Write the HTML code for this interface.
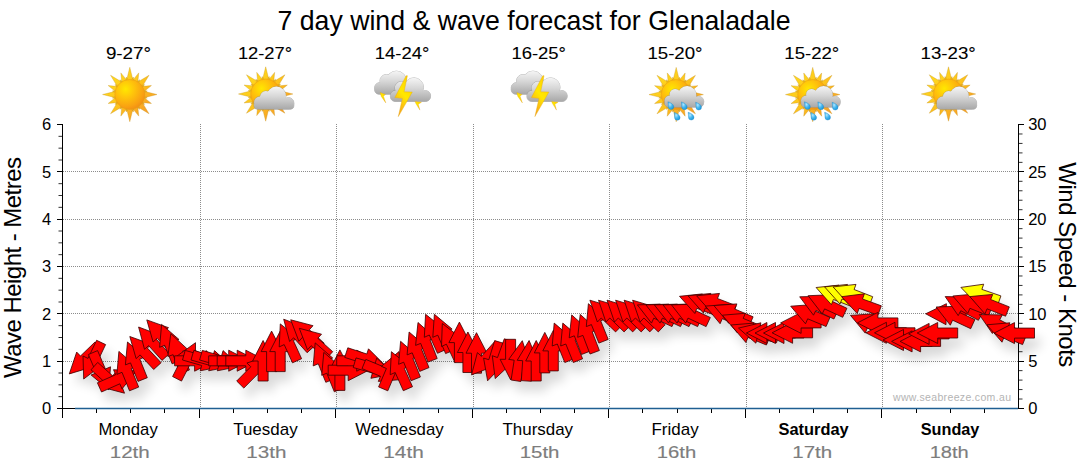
<!DOCTYPE html>
<html><head><meta charset="utf-8"><title>7 day wind &amp; wave forecast for Glenaladale</title>
<style>html,body{margin:0;padding:0;background:#fff;}body{width:1080px;height:475px;overflow:hidden;font-family:"Liberation Sans",sans-serif;}svg{display:block}text{font-family:"Liberation Sans",sans-serif;}</style></head><body>
<svg width="1080" height="475" viewBox="0 0 1080 475">
<defs>
<filter id="sh" x="-5%" y="-40%" width="110%" height="220%"><feGaussianBlur stdDeviation="5.5"/><feOffset dx="6" dy="10"/></filter>
<filter id="isf" x="-20%" y="-20%" width="140%" height="140%"><feGaussianBlur stdDeviation="0.35"/></filter>
<radialGradient id="gsun" cx="0.36" cy="0.32" r="0.75"><stop offset="0" stop-color="#ffe800"/><stop offset="0.35" stop-color="#ffc70a"/><stop offset="0.8" stop-color="#f9a012"/><stop offset="1" stop-color="#f08c14"/></radialGradient>
<linearGradient id="gray" gradientUnits="userSpaceOnUse" x1="-20" y1="-20" x2="20" y2="20"><stop offset="0" stop-color="#ffdc1e"/><stop offset="0.5" stop-color="#fdc21c"/><stop offset="1" stop-color="#f79a2a"/></linearGradient>
<linearGradient id="gcl" x1="0" y1="0" x2="0" y2="1"><stop offset="0" stop-color="#f5f5f5"/><stop offset="0.45" stop-color="#d6d6d6"/><stop offset="1" stop-color="#a8a8a8"/></linearGradient>
<linearGradient id="gbolt" x1="0.7" y1="0" x2="0.2" y2="1"><stop offset="0" stop-color="#ffd200"/><stop offset="0.45" stop-color="#ffe800"/><stop offset="0.8" stop-color="#fbb416"/><stop offset="1" stop-color="#f39a1e"/></linearGradient>
<radialGradient id="gdrop" cx="0.35" cy="0.35" r="0.8"><stop offset="0" stop-color="#aee6ff"/><stop offset="0.5" stop-color="#3fb4ee"/><stop offset="1" stop-color="#1590d6"/></radialGradient>
<g id="sunbase"><path d="M3.40 -13.50L0.00 -27.20L-3.40 -13.50ZM4.20 -12.93L3.47 -17.46L1.06 -13.55ZM7.94 -11.32L8.95 -21.62L2.39 -13.62ZM8.83 -10.34L9.89 -14.80L6.17 -12.11ZM11.95 -7.14L19.23 -19.23L7.14 -11.95ZM12.11 -6.17L14.80 -9.89L10.34 -8.83ZM13.62 -2.39L21.62 -8.95L11.32 -7.94ZM13.55 -1.06L17.46 -3.47L12.93 -4.20ZM13.50 3.40L27.20 0.00L13.50 -3.40ZM12.93 4.20L17.46 3.47L13.55 1.06ZM11.32 7.94L21.62 8.95L13.62 2.39ZM10.34 8.83L14.80 9.89L12.11 6.17ZM7.14 11.95L19.23 19.23L11.95 7.14ZM6.17 12.11L9.89 14.80L8.83 10.34ZM2.39 13.62L8.95 21.62L7.94 11.32ZM1.06 13.55L3.47 17.46L4.20 12.93ZM-3.40 13.50L0.00 27.20L3.40 13.50ZM-4.20 12.93L-3.47 17.46L-1.06 13.55ZM-7.94 11.32L-8.95 21.62L-2.39 13.62ZM-8.83 10.34L-9.89 14.80L-6.17 12.11ZM-11.95 7.14L-19.23 19.23L-7.14 11.95ZM-12.11 6.17L-14.80 9.89L-10.34 8.83ZM-13.62 2.39L-21.62 8.95L-11.32 7.94ZM-13.55 1.06L-17.46 3.47L-12.93 4.20ZM-13.50 -3.40L-27.20 0.00L-13.50 3.40ZM-12.93 -4.20L-17.46 -3.47L-13.55 -1.06ZM-11.32 -7.94L-21.62 -8.95L-13.62 -2.39ZM-10.34 -8.83L-14.80 -9.89L-12.11 -6.17ZM-7.14 -11.95L-19.23 -19.23L-11.95 -7.14ZM-6.17 -12.11L-9.89 -14.80L-8.83 -10.34ZM-2.39 -13.62L-8.95 -21.62L-7.94 -11.32ZM-1.06 -13.55L-3.47 -17.46L-4.20 -12.93Z" fill="url(#gray)" stroke="#c9941e" stroke-width="0.35"/><circle r="15" fill="url(#gsun)" stroke="#e89a14" stroke-width="0.5"/></g>
<g id="cl-pc"><path d="M-12.90 8.60a6.1 6.1 0 1 1 12.2 0a6.1 6.1 0 1 1 -12.2 0ZM-6.80 2.80a5.8 5.8 0 1 1 11.6 0a5.8 5.8 0 1 1 -11.6 0ZM-0.10 2.20a9.6 9.6 0 1 1 19.2 0a9.6 9.6 0 1 1 -19.2 0ZM16.20 9.00a5.4 5.4 0 1 1 10.8 0a5.4 5.4 0 1 1 -10.8 0ZM-8.8 7H22.9a4.1 4.1 0 0 1 4.1 4.1V11.200000000000001a4.1 4.1 0 0 1 -4.1 4.1H-8.8a4.1 4.1 0 0 1 -4.1 -4.1V11.1a4.1 4.1 0 0 1 4.1 -4.1Z" fill="#8a8a8a" stroke="#8a8a8a" stroke-width="1" opacity="0.55"/><path d="M-12.90 8.60a6.1 6.1 0 1 1 12.2 0a6.1 6.1 0 1 1 -12.2 0ZM-6.80 2.80a5.8 5.8 0 1 1 11.6 0a5.8 5.8 0 1 1 -11.6 0ZM-0.10 2.20a9.6 9.6 0 1 1 19.2 0a9.6 9.6 0 1 1 -19.2 0ZM16.20 9.00a5.4 5.4 0 1 1 10.8 0a5.4 5.4 0 1 1 -10.8 0ZM-8.8 7H22.9a4.1 4.1 0 0 1 4.1 4.1V11.200000000000001a4.1 4.1 0 0 1 -4.1 4.1H-8.8a4.1 4.1 0 0 1 -4.1 -4.1V11.1a4.1 4.1 0 0 1 4.1 -4.1Z" fill="url(#gcl)"/></g>
<g id="cl-rn"><path d="M-12.10 6.80a5.3 5.3 0 1 1 10.6 0a5.3 5.3 0 1 1 -10.6 0ZM-7.00 0.50a5.5 5.5 0 1 1 11.0 0a5.5 5.5 0 1 1 -11.0 0ZM1.30 1.20a9.2 9.2 0 1 1 18.4 0a9.2 9.2 0 1 1 -18.4 0ZM16.80 7.50a5.2 5.2 0 1 1 10.4 0a5.2 5.2 0 1 1 -10.4 0ZM-7.7 4.5H22.7a4.3 4.3 0 0 1 4.3 4.3V8.899999999999999a4.3 4.3 0 0 1 -4.3 4.3H-7.7a4.3 4.3 0 0 1 -4.3 -4.3V8.8a4.3 4.3 0 0 1 4.3 -4.3Z" fill="#8a8a8a" stroke="#8a8a8a" stroke-width="1" opacity="0.55"/><path d="M-12.10 6.80a5.3 5.3 0 1 1 10.6 0a5.3 5.3 0 1 1 -10.6 0ZM-7.00 0.50a5.5 5.5 0 1 1 11.0 0a5.5 5.5 0 1 1 -11.0 0ZM1.30 1.20a9.2 9.2 0 1 1 18.4 0a9.2 9.2 0 1 1 -18.4 0ZM16.80 7.50a5.2 5.2 0 1 1 10.4 0a5.2 5.2 0 1 1 -10.4 0ZM-7.7 4.5H22.7a4.3 4.3 0 0 1 4.3 4.3V8.899999999999999a4.3 4.3 0 0 1 -4.3 4.3H-7.7a4.3 4.3 0 0 1 -4.3 -4.3V8.8a4.3 4.3 0 0 1 4.3 -4.3Z" fill="url(#gcl)"/></g>
<g id="cl-tb"><path d="M-28.80 -6.20a5.2 5.2 0 1 1 10.4 0a5.2 5.2 0 1 1 -10.4 0ZM-23.50 -13.00a6.5 6.5 0 1 1 13.0 0a6.5 6.5 0 1 1 -13.0 0ZM-17.40 -12.50a10.4 10.4 0 1 1 20.8 0a10.4 10.4 0 1 1 -20.8 0ZM-2.50 -7.00a6.5 6.5 0 1 1 13.0 0a6.5 6.5 0 1 1 -13.0 0ZM-24.200000000000003 -9H5.4a4.6 4.6 0 0 1 4.6 4.6V-4.3a4.6 4.6 0 0 1 -4.6 4.6H-24.200000000000003a4.6 4.6 0 0 1 -4.6 -4.6V-4.4a4.6 4.6 0 0 1 4.6 -4.6Z" fill="#8a8a8a" stroke="#8a8a8a" stroke-width="1" opacity="0.55"/><path d="M-28.80 -6.20a5.2 5.2 0 1 1 10.4 0a5.2 5.2 0 1 1 -10.4 0ZM-23.50 -13.00a6.5 6.5 0 1 1 13.0 0a6.5 6.5 0 1 1 -13.0 0ZM-17.40 -12.50a10.4 10.4 0 1 1 20.8 0a10.4 10.4 0 1 1 -20.8 0ZM-2.50 -7.00a6.5 6.5 0 1 1 13.0 0a6.5 6.5 0 1 1 -13.0 0ZM-24.200000000000003 -9H5.4a4.6 4.6 0 0 1 4.6 4.6V-4.3a4.6 4.6 0 0 1 -4.6 4.6H-24.200000000000003a4.6 4.6 0 0 1 -4.6 -4.6V-4.4a4.6 4.6 0 0 1 4.6 -4.6Z" fill="url(#gcl)"/></g>
<g id="cl-tf"><path d="M-13.00 1.60a5.2 5.2 0 1 1 10.4 0a5.2 5.2 0 1 1 -10.4 0ZM-8.50 -6.00a6.5 6.5 0 1 1 13.0 0a6.5 6.5 0 1 1 -13.0 0ZM0.90 -6.60a9.6 9.6 0 1 1 19.2 0a9.6 9.6 0 1 1 -19.2 0ZM16.80 1.80a5.2 5.2 0 1 1 10.4 0a5.2 5.2 0 1 1 -10.4 0ZM-8.3 -2H22.3a4.7 4.7 0 0 1 4.7 4.7V2.8a4.7 4.7 0 0 1 -4.7 4.7H-8.3a4.7 4.7 0 0 1 -4.7 -4.7V2.7a4.7 4.7 0 0 1 4.7 -4.7Z" fill="#8a8a8a" stroke="#8a8a8a" stroke-width="1" opacity="0.55"/><path d="M-13.00 1.60a5.2 5.2 0 1 1 10.4 0a5.2 5.2 0 1 1 -10.4 0ZM-8.50 -6.00a6.5 6.5 0 1 1 13.0 0a6.5 6.5 0 1 1 -13.0 0ZM0.90 -6.60a9.6 9.6 0 1 1 19.2 0a9.6 9.6 0 1 1 -19.2 0ZM16.80 1.80a5.2 5.2 0 1 1 10.4 0a5.2 5.2 0 1 1 -10.4 0ZM-8.3 -2H22.3a4.7 4.7 0 0 1 4.7 4.7V2.8a4.7 4.7 0 0 1 -4.7 4.7H-8.3a4.7 4.7 0 0 1 -4.7 -4.7V2.7a4.7 4.7 0 0 1 4.7 -4.7Z" fill="url(#gcl)"/></g>
<path id="drop" d="M-3.3 -4.1C-1 -3.6 2.6 -1.6 2.6 0.9A2.75 2.75 0 0 1 -2.9 0.9C-2.9 -0.8 -3 -2.5 -3.3 -4.1Z" fill="url(#gdrop)" stroke="#1a86c8" stroke-width="0.35"/>
<g id="ic-sun"><use href="#sunbase" x="-0.5" y="0.5"/></g>
<g id="ic-pc"><use href="#sunbase" x="-1.2" y="0"/><use href="#cl-pc"/></g>
<g id="ic-rain"><use href="#sunbase" x="-0.4" y="0.6"/><use href="#cl-rn"/><use href="#drop" x="-5.4" y="11.9"/><use href="#drop" x="8" y="12"/><use href="#drop" x="22.3" y="12.4"/><use href="#drop" x="0.9" y="22.6"/><use href="#drop" x="14.8" y="22.4"/></g>
<g id="ic-th"><use href="#cl-tb"/><path d="M-23.2 -1.6L-18 0.4L-19.9 2.3L-17.6 8.9L-22.3 2.2Z" fill="url(#gbolt)" stroke="#e0a010" stroke-width="0.3"/><use href="#cl-tf"/><path d="M11.6 7.4L18.1 8.2L14.9 10.3L16.5 16.1L12.3 9.3Z" fill="url(#gbolt)" stroke="#e0a010" stroke-width="0.3"/><path d="M2.8 -18.3L-8.6 3.6L-1 4.4L-5.1 22.6L8.9 -1.9L0.7 -2.2L4 -18.3Z" fill="url(#gbolt)" stroke="#e6a812" stroke-width="0.4"/></g>
</defs>
<rect width="1080" height="475" fill="#fff"/>
<text x="534" y="29.5" font-size="28" text-anchor="middle" textLength="513" lengthAdjust="spacingAndGlyphs" fill="#000">7 day wind &amp; wave forecast for Glenaladale</text>
<path d="M63 361.5H1018 M63 313.5H1018 M63 266.5H1018 M63 219.5H1018 M63 171.5H1018" stroke="#8c8c8c" stroke-width="1" stroke-dasharray="1 1" fill="none" shape-rendering="crispEdges"/>
<path d="M200.5 124V408 M336.5 124V408 M473.5 124V408 M609.5 124V408 M746.5 124V408 M882.5 124V408" stroke="#8c8c8c" stroke-width="1" stroke-dasharray="1 1" fill="none" shape-rendering="crispEdges"/>
<path d="M62.5 124V418 M1018.5 124V409 M57 408.5H1019" stroke="#000" stroke-width="1" fill="none" shape-rendering="crispEdges"/>
<path d="M58.5 396.67H62 M58.5 384.83H62 M58.5 373.00H62 M58.5 349.33H62 M58.5 337.50H62 M58.5 325.67H62 M58.5 302.00H62 M58.5 290.17H62 M58.5 278.33H62 M58.5 254.67H62 M58.5 242.83H62 M58.5 231.00H62 M58.5 207.33H62 M58.5 195.50H62 M58.5 183.67H62 M58.5 160.00H62 M58.5 148.17H62 M58.5 136.33H62 M1019 399.03H1022.5 M1019 389.57H1022.5 M1019 380.10H1022.5 M1019 370.63H1022.5 M1019 351.70H1022.5 M1019 342.23H1022.5 M1019 332.77H1022.5 M1019 323.30H1022.5 M1019 304.37H1022.5 M1019 294.90H1022.5 M1019 285.43H1022.5 M1019 275.97H1022.5 M1019 257.03H1022.5 M1019 247.57H1022.5 M1019 238.10H1022.5 M1019 228.63H1022.5 M1019 209.70H1022.5 M1019 200.23H1022.5 M1019 190.77H1022.5 M1019 181.30H1022.5 M1019 162.37H1022.5 M1019 152.90H1022.5 M1019 143.43H1022.5 M1019 133.97H1022.5" stroke="#333" stroke-width="1" fill="none"/>
<path d="M57 408.5H62 M57 361.5H62 M57 313.5H62 M57 266.5H62 M57 219.5H62 M57 171.5H62 M57 124.5H62 M1019 408.5H1024 M1019 361.5H1024 M1019 313.5H1024 M1019 266.5H1024 M1019 219.5H1024 M1019 171.5H1024 M1019 124.5H1024 M62.5 409V418 M96.5 409V413 M130.5 409V413 M164.5 409V413 M199.5 409V418 M233.5 409V413 M267.5 409V413 M301.5 409V413 M335.5 409V418 M369.5 409V413 M403.5 409V413 M438.5 409V413 M472.5 409V418 M506.5 409V413 M540.5 409V413 M574.5 409V413 M608.5 409V418 M642.5 409V413 M677.5 409V413 M711.5 409V413 M745.5 409V418 M779.5 409V413 M813.5 409V413 M847.5 409V413 M881.5 409V418 M916.5 409V413 M950.5 409V413 M984.5 409V413" stroke="#000" stroke-width="1" fill="none" shape-rendering="crispEdges"/>
<path d="M101.9 349.3L87.5 363.2L91.3 367.2L69.3 373.9L76.7 352.1L80.5 356.0L94.9 342.1ZM105.6 344.6L97.0 362.7L102.0 365.0L83.7 379.0L83.0 356.0L88.0 358.4L96.6 340.3ZM97.6 350.6L105.4 369.0L110.5 366.8L108.8 389.8L91.1 375.0L96.2 372.9L88.4 354.5ZM97.7 362.4L112.6 375.8L116.3 371.7L124.5 393.2L102.2 387.3L105.9 383.2L91.0 369.8ZM97.4 382.8L115.7 374.7L113.5 369.7L136.5 370.9L122.0 388.9L119.8 383.8L101.5 392.0ZM129.5 390.8L122.0 372.3L116.9 374.4L118.9 351.4L136.3 366.5L131.2 368.6L138.7 387.1ZM138.0 381.4L130.5 362.9L125.4 364.9L127.5 342.0L144.9 357.0L139.8 359.1L147.3 377.7ZM153.7 369.5L140.1 354.9L136.1 358.6L129.8 336.5L151.4 344.3L147.4 348.1L161.1 362.7ZM162.0 360.4L148.6 345.6L144.5 349.3L138.6 327.0L160.1 335.2L156.0 338.9L169.4 353.7ZM170.8 352.9L157.2 338.3L153.1 342.0L146.8 319.9L168.5 327.7L164.5 331.4L178.1 346.1ZM172.1 363.8L164.7 345.3L159.6 347.3L161.6 324.4L179.0 339.5L173.9 341.5L181.4 360.1ZM180.0 373.5L173.1 354.7L167.9 356.5L170.8 333.7L187.7 349.4L182.5 351.2L189.4 370.0ZM172.6 376.5L181.7 358.7L176.8 356.2L195.5 342.7L195.5 365.7L190.6 363.2L181.5 381.1ZM174.6 355.8L194.6 355.8L194.6 350.2L215.1 360.8L194.6 371.2L194.6 365.8L174.6 365.8ZM185.2 350.4L204.5 355.9L206.0 350.6L222.8 366.3L200.2 370.8L201.7 365.5L182.5 360.0ZM193.8 350.4L213.0 355.9L214.5 350.6L231.3 366.3L208.7 370.8L210.3 365.5L191.0 360.0ZM202.3 350.4L221.5 355.9L223.1 350.6L239.9 366.3L217.3 370.8L218.8 365.5L199.6 360.0ZM208.7 355.8L228.7 355.8L228.7 350.2L249.2 360.8L228.7 371.2L228.7 365.8L208.7 365.8ZM217.2 355.8L237.2 355.8L237.2 350.2L257.7 360.8L237.2 371.2L237.2 365.8L217.2 365.8ZM225.8 355.8L245.8 355.8L245.8 350.2L266.3 360.8L245.8 371.2L245.8 365.8L225.8 365.8ZM236.7 381.0L250.8 366.8L246.9 363.0L268.9 355.9L261.8 377.8L257.9 373.9L243.8 388.1ZM258.1 381.0L258.1 361.0L252.6 361.0L263.1 340.5L273.6 361.0L268.1 361.0L268.1 381.0ZM266.6 371.6L266.6 351.6L261.1 351.6L271.6 331.1L282.1 351.6L276.6 351.6L276.6 371.6ZM275.2 371.6L275.2 351.6L269.7 351.6L280.2 331.1L290.7 351.6L285.2 351.6L285.2 371.6ZM292.5 362.8L284.2 344.6L279.2 346.9L280.3 323.9L298.4 338.2L293.3 340.5L301.6 358.7ZM307.1 352.7L293.7 337.8L289.6 341.5L283.7 319.2L305.2 327.4L301.1 331.1L314.5 346.0ZM317.5 350.6L302.6 337.2L298.9 341.3L290.7 319.8L313.0 325.7L309.3 329.8L324.2 343.2ZM326.0 359.1L311.1 345.7L307.5 349.8L299.3 328.3L321.5 334.2L317.8 338.3L332.7 351.7ZM325.8 382.3L318.3 363.8L313.2 365.9L315.2 342.9L332.7 358.0L327.6 360.1L335.1 378.6ZM334.3 391.8L326.8 373.2L321.7 375.3L323.8 352.4L341.2 367.4L336.1 369.5L343.6 388.0ZM334.9 390.4L334.9 370.4L329.4 370.4L339.9 349.9L350.4 370.4L344.9 370.4L344.9 390.4ZM328.2 365.2L348.2 365.2L348.2 359.7L368.7 370.2L348.2 380.7L348.2 375.2L328.2 375.2ZM336.7 355.8L356.7 355.8L356.7 350.2L377.2 360.8L356.7 371.2L356.7 365.8L336.7 365.8ZM347.8 347.8L366.8 354.0L368.5 348.8L384.8 365.1L362.0 368.8L363.7 363.5L344.7 357.4ZM356.0 357.9L375.2 363.4L376.7 358.1L393.5 373.9L370.9 378.3L372.4 373.0L353.2 367.5ZM365.8 359.4L384.3 367.1L386.4 362.0L401.3 379.6L378.3 381.4L380.4 376.3L362.0 368.6ZM378.6 386.9L386.4 368.5L381.4 366.3L399.0 351.6L400.7 374.5L395.6 372.4L387.8 390.8ZM403.3 390.7L395.2 372.5L390.2 374.7L391.4 351.7L409.4 366.2L404.3 368.4L412.5 386.7ZM411.1 380.7L403.7 362.2L398.6 364.3L400.6 341.3L418.0 356.4L412.9 358.4L420.4 377.0ZM419.7 371.4L412.2 352.8L407.1 354.9L409.1 332.0L426.6 347.0L421.5 349.1L429.0 367.6ZM427.9 362.1L420.7 343.4L415.6 345.4L418.0 322.5L435.2 337.8L430.0 339.8L437.2 358.5ZM437.5 353.3L429.3 335.0L424.3 337.3L425.6 314.3L443.5 328.7L438.5 331.0L446.6 349.2ZM445.6 353.6L437.8 335.2L432.8 337.3L434.4 314.3L452.1 329.1L447.0 331.2L454.9 349.7ZM454.9 362.3L446.4 344.2L441.5 346.5L442.3 323.5L460.5 337.6L455.5 340.0L464.0 358.1ZM454.4 362.6L454.4 342.6L448.9 342.6L459.4 322.1L469.9 342.6L464.4 342.6L464.4 362.6ZM462.9 372.5L462.9 352.5L457.4 352.5L467.9 332.0L478.4 352.5L472.9 352.5L472.9 372.5ZM471.5 373.2L471.5 353.2L466.0 353.2L476.5 332.7L487.0 353.2L481.5 353.2L481.5 373.2ZM502.3 348.1L488.9 363.0L493.0 366.6L471.5 374.9L477.4 352.6L481.5 356.3L494.8 341.4ZM504.3 343.5L498.4 362.6L503.7 364.2L487.6 380.8L483.6 358.1L488.8 359.7L494.7 340.6ZM513.7 342.2L506.9 361.0L512.0 362.9L495.2 378.6L492.3 355.7L497.5 357.6L504.3 338.8ZM515.6 339.3L515.6 359.3L521.1 359.3L510.6 379.8L500.1 359.3L505.6 359.3L505.6 339.3ZM511.1 380.0L514.2 360.2L508.7 359.4L522.3 340.7L529.5 362.6L524.1 361.8L520.9 381.5ZM521.3 380.6L522.7 360.7L517.2 360.3L529.1 340.5L538.1 361.7L532.7 361.3L531.3 381.3ZM531.2 381.0L531.2 361.0L525.7 361.0L536.2 340.5L546.7 361.0L541.2 361.0L541.2 381.0ZM539.8 372.9L539.8 352.9L534.3 352.9L544.8 332.4L555.3 352.9L549.8 352.9L549.8 372.9ZM548.3 370.9L548.3 350.9L542.8 350.9L553.3 330.4L563.8 350.9L558.3 350.9L558.3 370.9ZM564.8 362.5L557.3 344.0L552.2 346.0L554.2 323.1L571.7 338.1L566.6 340.2L574.1 358.8ZM573.3 362.5L565.8 344.0L560.7 346.0L562.8 323.1L580.2 338.1L575.1 340.2L582.6 358.8ZM581.5 354.5L574.3 335.8L569.2 337.8L571.7 314.9L588.8 330.3L583.7 332.3L590.8 350.9ZM590.0 354.0L582.9 335.4L577.7 337.3L580.2 314.4L597.3 329.8L592.2 331.8L599.4 350.5ZM598.9 343.1L591.4 324.6L586.3 326.6L588.4 303.7L605.8 318.8L600.7 320.8L608.2 339.4ZM615.6 331.9L601.2 318.0L597.4 322.0L589.9 300.2L612.0 306.9L608.2 310.8L622.6 324.7ZM624.1 331.9L609.8 318.0L605.9 322.0L598.5 300.2L620.5 306.9L616.7 310.8L631.1 324.7ZM632.7 331.9L618.3 318.0L614.5 322.0L607.0 300.2L629.1 306.9L625.2 310.8L639.6 324.7ZM641.2 331.9L626.8 318.0L623.0 322.0L615.6 300.2L637.6 306.9L633.8 310.8L648.2 324.7ZM649.8 331.9L635.4 318.0L631.5 322.0L624.1 300.2L646.1 306.9L642.3 310.8L656.7 324.7ZM658.3 331.9L643.9 318.0L640.1 322.0L632.6 300.2L654.7 306.9L650.8 310.8L665.2 324.7ZM672.0 326.6L653.8 318.1L651.5 323.1L637.4 304.9L660.4 304.1L658.1 309.1L676.2 317.5ZM680.5 326.6L662.4 318.1L660.1 323.1L645.9 304.9L668.9 304.1L666.6 309.1L684.7 317.5ZM689.0 326.6L670.9 318.1L668.6 323.1L654.4 304.9L677.5 304.1L675.1 309.1L693.3 317.5ZM697.6 326.6L679.4 318.1L677.1 323.1L663.0 304.9L686.0 304.1L683.7 309.1L701.8 317.5ZM706.1 326.6L688.0 318.1L685.7 323.1L671.5 304.9L694.5 304.1L692.2 309.1L710.3 317.5ZM715.5 315.5L696.8 308.3L694.9 313.5L679.5 296.3L702.4 293.9L700.4 299.0L719.1 306.2ZM724.1 315.0L705.4 307.9L703.4 313.0L688.0 295.8L710.9 293.4L709.0 298.5L727.6 305.7ZM732.6 315.0L713.9 307.9L711.9 313.0L696.6 295.8L719.5 293.4L717.5 298.5L736.2 305.7ZM740.7 326.5L722.3 318.7L720.1 323.7L705.4 306.1L728.3 304.4L726.2 309.5L744.6 317.3ZM749.2 326.0L730.8 318.2L728.7 323.3L713.9 305.6L736.9 303.9L734.7 309.0L753.1 316.8ZM757.9 335.3L739.4 327.7L737.3 332.8L722.4 315.2L745.3 313.3L743.2 318.4L761.7 326.0ZM766.4 345.0L747.9 337.4L745.9 342.5L730.9 325.0L753.9 323.1L751.8 328.2L770.2 335.8ZM776.6 342.7L757.2 337.9L755.9 343.2L738.5 328.1L760.9 322.8L759.6 328.2L779.0 333.0ZM786.9 338.0L766.9 338.0L766.9 343.5L746.4 333.0L766.9 322.5L766.9 328.0L786.9 328.0ZM795.5 338.0L775.5 338.0L775.5 343.5L755.0 333.0L775.5 322.5L775.5 328.0L795.5 328.0ZM804.0 338.0L784.0 338.0L784.0 343.5L763.5 333.0L784.0 322.5L784.0 328.0L804.0 328.0ZM812.6 337.8L792.6 337.8L792.6 343.3L772.1 332.8L792.6 322.3L792.6 327.8L812.6 327.8ZM821.1 327.9L801.1 327.9L801.1 333.4L780.6 322.9L801.1 312.4L801.1 317.9L821.1 317.9ZM826.1 326.5L807.7 318.8L805.5 323.8L790.7 306.2L813.7 304.5L811.5 309.6L830.0 317.3ZM833.9 319.0L815.9 310.3L813.5 315.2L799.7 296.8L822.7 296.3L820.3 301.3L838.3 310.0ZM842.7 317.3L824.6 308.9L822.2 313.9L808.1 295.7L831.1 294.8L828.8 299.8L846.9 308.3ZM852.1 306.7L833.4 299.5L831.4 304.7L816.1 287.5L839.0 285.1L837.0 290.2L855.7 297.4ZM860.6 306.1L842.0 298.9L840.0 304.0L824.6 286.9L847.5 284.4L845.5 289.5L864.2 296.7ZM869.2 306.1L850.5 298.9L848.5 304.0L833.1 286.9L856.0 284.4L854.1 289.5L872.7 296.7ZM877.9 315.2L859.1 308.4L857.2 313.5L841.6 296.7L864.4 293.8L862.5 299.0L881.3 305.8ZM885.8 335.8L867.4 328.0L865.2 333.1L850.5 315.4L873.5 313.8L871.3 318.8L889.7 326.6ZM897.9 327.9L877.9 327.9L877.9 333.4L857.4 322.9L877.9 312.4L877.9 317.9L897.9 317.9ZM906.4 337.8L886.4 337.8L886.4 343.3L865.9 332.8L886.4 322.3L886.4 327.8L906.4 327.8ZM915.0 337.8L895.0 337.8L895.0 343.3L874.5 332.8L895.0 322.3L895.0 327.8L915.0 327.8ZM923.5 345.0L903.5 345.0L903.5 350.5L883.0 340.0L903.5 329.5L903.5 335.0L923.5 335.0ZM932.1 346.4L912.1 346.4L912.1 351.9L891.6 341.4L912.1 330.9L912.1 336.4L932.1 336.4ZM940.6 346.4L920.6 346.4L920.6 351.9L900.1 341.4L920.6 330.9L920.6 336.4L940.6 336.4ZM949.1 338.9L929.1 338.9L929.1 344.4L908.6 333.9L929.1 323.4L929.1 328.9L949.1 328.9ZM957.7 338.0L937.7 338.0L937.7 343.5L917.2 333.0L937.7 322.5L937.7 328.0L957.7 328.0ZM966.1 319.5L946.1 319.2L946.0 324.7L925.7 313.8L946.4 303.7L946.3 309.2L966.3 309.5ZM970.7 328.7L952.6 320.2L950.3 325.2L936.1 307.0L959.1 306.2L956.8 311.2L974.9 319.6ZM978.4 320.3L960.8 310.7L958.2 315.6L945.2 296.6L968.2 297.1L965.6 301.9L983.2 311.5ZM988.5 315.8L969.9 308.3L967.8 313.4L952.8 296.0L975.7 293.9L973.7 299.0L992.2 306.5ZM997.6 305.4L978.7 298.8L976.9 304.0L960.9 287.4L983.7 284.2L981.9 289.4L1000.9 295.9ZM1005.6 316.2L987.0 308.8L985.0 313.9L969.8 296.6L992.7 294.4L990.7 299.5L1009.3 306.9ZM1012.7 338.0L995.0 328.6L992.4 333.5L979.3 314.6L1002.3 314.9L999.7 319.8L1017.4 329.2ZM1022.6 344.6L1004.1 337.1L1002.0 342.2L986.9 324.8L1009.9 322.8L1007.8 327.9L1026.3 335.3ZM1034.5 338.1L1014.5 338.1L1014.5 343.6L994.0 333.1L1014.5 322.6L1014.5 328.1L1034.5 328.1Z" fill="#000" filter="url(#sh)" opacity="0.15"/>
<g stroke="#3a0000" stroke-width="0.8" stroke-linejoin="miter">
<path d="M101.9 349.3L87.5 363.2L91.3 367.2L69.3 373.9L76.7 352.1L80.5 356.0L94.9 342.1Z" fill="#ff0000"/>
<path d="M105.6 344.6L97.0 362.7L102.0 365.0L83.7 379.0L83.0 356.0L88.0 358.4L96.6 340.3Z" fill="#ff0000"/>
<path d="M97.6 350.6L105.4 369.0L110.5 366.8L108.8 389.8L91.1 375.0L96.2 372.9L88.4 354.5Z" fill="#ff0000"/>
<path d="M97.7 362.4L112.6 375.8L116.3 371.7L124.5 393.2L102.2 387.3L105.9 383.2L91.0 369.8Z" fill="#ff0000"/>
<path d="M97.4 382.8L115.7 374.7L113.5 369.7L136.5 370.9L122.0 388.9L119.8 383.8L101.5 392.0Z" fill="#ff0000"/>
<path d="M129.5 390.8L122.0 372.3L116.9 374.4L118.9 351.4L136.3 366.5L131.2 368.6L138.7 387.1Z" fill="#ff0000"/>
<path d="M138.0 381.4L130.5 362.9L125.4 364.9L127.5 342.0L144.9 357.0L139.8 359.1L147.3 377.7Z" fill="#ff0000"/>
<path d="M153.7 369.5L140.1 354.9L136.1 358.6L129.8 336.5L151.4 344.3L147.4 348.1L161.1 362.7Z" fill="#ff0000"/>
<path d="M162.0 360.4L148.6 345.6L144.5 349.3L138.6 327.0L160.1 335.2L156.0 338.9L169.4 353.7Z" fill="#ff0000"/>
<path d="M170.8 352.9L157.2 338.3L153.1 342.0L146.8 319.9L168.5 327.7L164.5 331.4L178.1 346.1Z" fill="#ff0000"/>
<path d="M172.1 363.8L164.7 345.3L159.6 347.3L161.6 324.4L179.0 339.5L173.9 341.5L181.4 360.1Z" fill="#ff0000"/>
<path d="M180.0 373.5L173.1 354.7L167.9 356.5L170.8 333.7L187.7 349.4L182.5 351.2L189.4 370.0Z" fill="#ff0000"/>
<path d="M172.6 376.5L181.7 358.7L176.8 356.2L195.5 342.7L195.5 365.7L190.6 363.2L181.5 381.1Z" fill="#ff0000"/>
<path d="M174.6 355.8L194.6 355.8L194.6 350.2L215.1 360.8L194.6 371.2L194.6 365.8L174.6 365.8Z" fill="#ff0000"/>
<path d="M185.2 350.4L204.5 355.9L206.0 350.6L222.8 366.3L200.2 370.8L201.7 365.5L182.5 360.0Z" fill="#ff0000"/>
<path d="M193.8 350.4L213.0 355.9L214.5 350.6L231.3 366.3L208.7 370.8L210.3 365.5L191.0 360.0Z" fill="#ff0000"/>
<path d="M202.3 350.4L221.5 355.9L223.1 350.6L239.9 366.3L217.3 370.8L218.8 365.5L199.6 360.0Z" fill="#ff0000"/>
<path d="M208.7 355.8L228.7 355.8L228.7 350.2L249.2 360.8L228.7 371.2L228.7 365.8L208.7 365.8Z" fill="#ff0000"/>
<path d="M217.2 355.8L237.2 355.8L237.2 350.2L257.7 360.8L237.2 371.2L237.2 365.8L217.2 365.8Z" fill="#ff0000"/>
<path d="M225.8 355.8L245.8 355.8L245.8 350.2L266.3 360.8L245.8 371.2L245.8 365.8L225.8 365.8Z" fill="#ff0000"/>
<path d="M236.7 381.0L250.8 366.8L246.9 363.0L268.9 355.9L261.8 377.8L257.9 373.9L243.8 388.1Z" fill="#ff0000"/>
<path d="M258.1 381.0L258.1 361.0L252.6 361.0L263.1 340.5L273.6 361.0L268.1 361.0L268.1 381.0Z" fill="#ff0000"/>
<path d="M266.6 371.6L266.6 351.6L261.1 351.6L271.6 331.1L282.1 351.6L276.6 351.6L276.6 371.6Z" fill="#ff0000"/>
<path d="M275.2 371.6L275.2 351.6L269.7 351.6L280.2 331.1L290.7 351.6L285.2 351.6L285.2 371.6Z" fill="#ff0000"/>
<path d="M292.5 362.8L284.2 344.6L279.2 346.9L280.3 323.9L298.4 338.2L293.3 340.5L301.6 358.7Z" fill="#ff0000"/>
<path d="M307.1 352.7L293.7 337.8L289.6 341.5L283.7 319.2L305.2 327.4L301.1 331.1L314.5 346.0Z" fill="#ff0000"/>
<path d="M317.5 350.6L302.6 337.2L298.9 341.3L290.7 319.8L313.0 325.7L309.3 329.8L324.2 343.2Z" fill="#ff0000"/>
<path d="M326.0 359.1L311.1 345.7L307.5 349.8L299.3 328.3L321.5 334.2L317.8 338.3L332.7 351.7Z" fill="#ff0000"/>
<path d="M325.8 382.3L318.3 363.8L313.2 365.9L315.2 342.9L332.7 358.0L327.6 360.1L335.1 378.6Z" fill="#ff0000"/>
<path d="M334.3 391.8L326.8 373.2L321.7 375.3L323.8 352.4L341.2 367.4L336.1 369.5L343.6 388.0Z" fill="#ff0000"/>
<path d="M334.9 390.4L334.9 370.4L329.4 370.4L339.9 349.9L350.4 370.4L344.9 370.4L344.9 390.4Z" fill="#ff0000"/>
<path d="M328.2 365.2L348.2 365.2L348.2 359.7L368.7 370.2L348.2 380.7L348.2 375.2L328.2 375.2Z" fill="#ff0000"/>
<path d="M336.7 355.8L356.7 355.8L356.7 350.2L377.2 360.8L356.7 371.2L356.7 365.8L336.7 365.8Z" fill="#ff0000"/>
<path d="M347.8 347.8L366.8 354.0L368.5 348.8L384.8 365.1L362.0 368.8L363.7 363.5L344.7 357.4Z" fill="#ff0000"/>
<path d="M356.0 357.9L375.2 363.4L376.7 358.1L393.5 373.9L370.9 378.3L372.4 373.0L353.2 367.5Z" fill="#ff0000"/>
<path d="M365.8 359.4L384.3 367.1L386.4 362.0L401.3 379.6L378.3 381.4L380.4 376.3L362.0 368.6Z" fill="#ff0000"/>
<path d="M378.6 386.9L386.4 368.5L381.4 366.3L399.0 351.6L400.7 374.5L395.6 372.4L387.8 390.8Z" fill="#ff0000"/>
<path d="M403.3 390.7L395.2 372.5L390.2 374.7L391.4 351.7L409.4 366.2L404.3 368.4L412.5 386.7Z" fill="#ff0000"/>
<path d="M411.1 380.7L403.7 362.2L398.6 364.3L400.6 341.3L418.0 356.4L412.9 358.4L420.4 377.0Z" fill="#ff0000"/>
<path d="M419.7 371.4L412.2 352.8L407.1 354.9L409.1 332.0L426.6 347.0L421.5 349.1L429.0 367.6Z" fill="#ff0000"/>
<path d="M427.9 362.1L420.7 343.4L415.6 345.4L418.0 322.5L435.2 337.8L430.0 339.8L437.2 358.5Z" fill="#ff0000"/>
<path d="M437.5 353.3L429.3 335.0L424.3 337.3L425.6 314.3L443.5 328.7L438.5 331.0L446.6 349.2Z" fill="#ff0000"/>
<path d="M445.6 353.6L437.8 335.2L432.8 337.3L434.4 314.3L452.1 329.1L447.0 331.2L454.9 349.7Z" fill="#ff0000"/>
<path d="M454.9 362.3L446.4 344.2L441.5 346.5L442.3 323.5L460.5 337.6L455.5 340.0L464.0 358.1Z" fill="#ff0000"/>
<path d="M454.4 362.6L454.4 342.6L448.9 342.6L459.4 322.1L469.9 342.6L464.4 342.6L464.4 362.6Z" fill="#ff0000"/>
<path d="M462.9 372.5L462.9 352.5L457.4 352.5L467.9 332.0L478.4 352.5L472.9 352.5L472.9 372.5Z" fill="#ff0000"/>
<path d="M471.5 373.2L471.5 353.2L466.0 353.2L476.5 332.7L487.0 353.2L481.5 353.2L481.5 373.2Z" fill="#ff0000"/>
<path d="M502.3 348.1L488.9 363.0L493.0 366.6L471.5 374.9L477.4 352.6L481.5 356.3L494.8 341.4Z" fill="#ff0000"/>
<path d="M504.3 343.5L498.4 362.6L503.7 364.2L487.6 380.8L483.6 358.1L488.8 359.7L494.7 340.6Z" fill="#ff0000"/>
<path d="M513.7 342.2L506.9 361.0L512.0 362.9L495.2 378.6L492.3 355.7L497.5 357.6L504.3 338.8Z" fill="#ff0000"/>
<path d="M515.6 339.3L515.6 359.3L521.1 359.3L510.6 379.8L500.1 359.3L505.6 359.3L505.6 339.3Z" fill="#ff0000"/>
<path d="M511.1 380.0L514.2 360.2L508.7 359.4L522.3 340.7L529.5 362.6L524.1 361.8L520.9 381.5Z" fill="#ff0000"/>
<path d="M521.3 380.6L522.7 360.7L517.2 360.3L529.1 340.5L538.1 361.7L532.7 361.3L531.3 381.3Z" fill="#ff0000"/>
<path d="M531.2 381.0L531.2 361.0L525.7 361.0L536.2 340.5L546.7 361.0L541.2 361.0L541.2 381.0Z" fill="#ff0000"/>
<path d="M539.8 372.9L539.8 352.9L534.3 352.9L544.8 332.4L555.3 352.9L549.8 352.9L549.8 372.9Z" fill="#ff0000"/>
<path d="M548.3 370.9L548.3 350.9L542.8 350.9L553.3 330.4L563.8 350.9L558.3 350.9L558.3 370.9Z" fill="#ff0000"/>
<path d="M564.8 362.5L557.3 344.0L552.2 346.0L554.2 323.1L571.7 338.1L566.6 340.2L574.1 358.8Z" fill="#ff0000"/>
<path d="M573.3 362.5L565.8 344.0L560.7 346.0L562.8 323.1L580.2 338.1L575.1 340.2L582.6 358.8Z" fill="#ff0000"/>
<path d="M581.5 354.5L574.3 335.8L569.2 337.8L571.7 314.9L588.8 330.3L583.7 332.3L590.8 350.9Z" fill="#ff0000"/>
<path d="M590.0 354.0L582.9 335.4L577.7 337.3L580.2 314.4L597.3 329.8L592.2 331.8L599.4 350.5Z" fill="#ff0000"/>
<path d="M598.9 343.1L591.4 324.6L586.3 326.6L588.4 303.7L605.8 318.8L600.7 320.8L608.2 339.4Z" fill="#ff0000"/>
<path d="M615.6 331.9L601.2 318.0L597.4 322.0L589.9 300.2L612.0 306.9L608.2 310.8L622.6 324.7Z" fill="#ff0000"/>
<path d="M624.1 331.9L609.8 318.0L605.9 322.0L598.5 300.2L620.5 306.9L616.7 310.8L631.1 324.7Z" fill="#ff0000"/>
<path d="M632.7 331.9L618.3 318.0L614.5 322.0L607.0 300.2L629.1 306.9L625.2 310.8L639.6 324.7Z" fill="#ff0000"/>
<path d="M641.2 331.9L626.8 318.0L623.0 322.0L615.6 300.2L637.6 306.9L633.8 310.8L648.2 324.7Z" fill="#ff0000"/>
<path d="M649.8 331.9L635.4 318.0L631.5 322.0L624.1 300.2L646.1 306.9L642.3 310.8L656.7 324.7Z" fill="#ff0000"/>
<path d="M658.3 331.9L643.9 318.0L640.1 322.0L632.6 300.2L654.7 306.9L650.8 310.8L665.2 324.7Z" fill="#ff0000"/>
<path d="M672.0 326.6L653.8 318.1L651.5 323.1L637.4 304.9L660.4 304.1L658.1 309.1L676.2 317.5Z" fill="#ff0000"/>
<path d="M680.5 326.6L662.4 318.1L660.1 323.1L645.9 304.9L668.9 304.1L666.6 309.1L684.7 317.5Z" fill="#ff0000"/>
<path d="M689.0 326.6L670.9 318.1L668.6 323.1L654.4 304.9L677.5 304.1L675.1 309.1L693.3 317.5Z" fill="#ff0000"/>
<path d="M697.6 326.6L679.4 318.1L677.1 323.1L663.0 304.9L686.0 304.1L683.7 309.1L701.8 317.5Z" fill="#ff0000"/>
<path d="M706.1 326.6L688.0 318.1L685.7 323.1L671.5 304.9L694.5 304.1L692.2 309.1L710.3 317.5Z" fill="#ff0000"/>
<path d="M715.5 315.5L696.8 308.3L694.9 313.5L679.5 296.3L702.4 293.9L700.4 299.0L719.1 306.2Z" fill="#ff0000"/>
<path d="M724.1 315.0L705.4 307.9L703.4 313.0L688.0 295.8L710.9 293.4L709.0 298.5L727.6 305.7Z" fill="#ff0000"/>
<path d="M732.6 315.0L713.9 307.9L711.9 313.0L696.6 295.8L719.5 293.4L717.5 298.5L736.2 305.7Z" fill="#ff0000"/>
<path d="M740.7 326.5L722.3 318.7L720.1 323.7L705.4 306.1L728.3 304.4L726.2 309.5L744.6 317.3Z" fill="#ff0000"/>
<path d="M749.2 326.0L730.8 318.2L728.7 323.3L713.9 305.6L736.9 303.9L734.7 309.0L753.1 316.8Z" fill="#ff0000"/>
<path d="M757.9 335.3L739.4 327.7L737.3 332.8L722.4 315.2L745.3 313.3L743.2 318.4L761.7 326.0Z" fill="#ff0000"/>
<path d="M766.4 345.0L747.9 337.4L745.9 342.5L730.9 325.0L753.9 323.1L751.8 328.2L770.2 335.8Z" fill="#ff0000"/>
<path d="M776.6 342.7L757.2 337.9L755.9 343.2L738.5 328.1L760.9 322.8L759.6 328.2L779.0 333.0Z" fill="#ff0000"/>
<path d="M786.9 338.0L766.9 338.0L766.9 343.5L746.4 333.0L766.9 322.5L766.9 328.0L786.9 328.0Z" fill="#ff0000"/>
<path d="M795.5 338.0L775.5 338.0L775.5 343.5L755.0 333.0L775.5 322.5L775.5 328.0L795.5 328.0Z" fill="#ff0000"/>
<path d="M804.0 338.0L784.0 338.0L784.0 343.5L763.5 333.0L784.0 322.5L784.0 328.0L804.0 328.0Z" fill="#ff0000"/>
<path d="M812.6 337.8L792.6 337.8L792.6 343.3L772.1 332.8L792.6 322.3L792.6 327.8L812.6 327.8Z" fill="#ff0000"/>
<path d="M821.1 327.9L801.1 327.9L801.1 333.4L780.6 322.9L801.1 312.4L801.1 317.9L821.1 317.9Z" fill="#ff0000"/>
<path d="M826.1 326.5L807.7 318.8L805.5 323.8L790.7 306.2L813.7 304.5L811.5 309.6L830.0 317.3Z" fill="#ff0000"/>
<path d="M833.9 319.0L815.9 310.3L813.5 315.2L799.7 296.8L822.7 296.3L820.3 301.3L838.3 310.0Z" fill="#ff0000"/>
<path d="M842.7 317.3L824.6 308.9L822.2 313.9L808.1 295.7L831.1 294.8L828.8 299.8L846.9 308.3Z" fill="#ff0000"/>
<path d="M852.1 306.7L833.4 299.5L831.4 304.7L816.1 287.5L839.0 285.1L837.0 290.2L855.7 297.4Z" fill="#ffff00"/>
<path d="M860.6 306.1L842.0 298.9L840.0 304.0L824.6 286.9L847.5 284.4L845.5 289.5L864.2 296.7Z" fill="#ffff00"/>
<path d="M869.2 306.1L850.5 298.9L848.5 304.0L833.1 286.9L856.0 284.4L854.1 289.5L872.7 296.7Z" fill="#ffff00"/>
<path d="M877.9 315.2L859.1 308.4L857.2 313.5L841.6 296.7L864.4 293.8L862.5 299.0L881.3 305.8Z" fill="#ff0000"/>
<path d="M885.8 335.8L867.4 328.0L865.2 333.1L850.5 315.4L873.5 313.8L871.3 318.8L889.7 326.6Z" fill="#ff0000"/>
<path d="M897.9 327.9L877.9 327.9L877.9 333.4L857.4 322.9L877.9 312.4L877.9 317.9L897.9 317.9Z" fill="#ff0000"/>
<path d="M906.4 337.8L886.4 337.8L886.4 343.3L865.9 332.8L886.4 322.3L886.4 327.8L906.4 327.8Z" fill="#ff0000"/>
<path d="M915.0 337.8L895.0 337.8L895.0 343.3L874.5 332.8L895.0 322.3L895.0 327.8L915.0 327.8Z" fill="#ff0000"/>
<path d="M923.5 345.0L903.5 345.0L903.5 350.5L883.0 340.0L903.5 329.5L903.5 335.0L923.5 335.0Z" fill="#ff0000"/>
<path d="M932.1 346.4L912.1 346.4L912.1 351.9L891.6 341.4L912.1 330.9L912.1 336.4L932.1 336.4Z" fill="#ff0000"/>
<path d="M940.6 346.4L920.6 346.4L920.6 351.9L900.1 341.4L920.6 330.9L920.6 336.4L940.6 336.4Z" fill="#ff0000"/>
<path d="M949.1 338.9L929.1 338.9L929.1 344.4L908.6 333.9L929.1 323.4L929.1 328.9L949.1 328.9Z" fill="#ff0000"/>
<path d="M957.7 338.0L937.7 338.0L937.7 343.5L917.2 333.0L937.7 322.5L937.7 328.0L957.7 328.0Z" fill="#ff0000"/>
<path d="M966.1 319.5L946.1 319.2L946.0 324.7L925.7 313.8L946.4 303.7L946.3 309.2L966.3 309.5Z" fill="#ff0000"/>
<path d="M970.7 328.7L952.6 320.2L950.3 325.2L936.1 307.0L959.1 306.2L956.8 311.2L974.9 319.6Z" fill="#ff0000"/>
<path d="M978.4 320.3L960.8 310.7L958.2 315.6L945.2 296.6L968.2 297.1L965.6 301.9L983.2 311.5Z" fill="#ff0000"/>
<path d="M988.5 315.8L969.9 308.3L967.8 313.4L952.8 296.0L975.7 293.9L973.7 299.0L992.2 306.5Z" fill="#ff0000"/>
<path d="M997.6 305.4L978.7 298.8L976.9 304.0L960.9 287.4L983.7 284.2L981.9 289.4L1000.9 295.9Z" fill="#ffff00"/>
<path d="M1005.6 316.2L987.0 308.8L985.0 313.9L969.8 296.6L992.7 294.4L990.7 299.5L1009.3 306.9Z" fill="#ff0000"/>
<path d="M1012.7 338.0L995.0 328.6L992.4 333.5L979.3 314.6L1002.3 314.9L999.7 319.8L1017.4 329.2Z" fill="#ff0000"/>
<path d="M1022.6 344.6L1004.1 337.1L1002.0 342.2L986.9 324.8L1009.9 322.8L1007.8 327.9L1026.3 335.3Z" fill="#ff0000"/>
<path d="M1034.5 338.1L1014.5 338.1L1014.5 343.6L994.0 333.1L1014.5 322.6L1014.5 328.1L1034.5 328.1Z" fill="#ff0000"/>
</g>
<path d="M75 408.5H1018" stroke="#1f5f92" stroke-width="1.3" fill="none"/>
<text x="51.3" y="414.4" font-size="16.5" text-anchor="end">0</text>
<text x="1028.2" y="414.4" font-size="16.5">0</text>
<text x="51.3" y="367.1" font-size="16.5" text-anchor="end">1</text>
<text x="1028.2" y="367.1" font-size="16.5">5</text>
<text x="51.3" y="319.7" font-size="16.5" text-anchor="end">2</text>
<text x="1028.2" y="319.7" font-size="16.5">10</text>
<text x="51.3" y="272.4" font-size="16.5" text-anchor="end">3</text>
<text x="1028.2" y="272.4" font-size="16.5">15</text>
<text x="51.3" y="225.1" font-size="16.5" text-anchor="end">4</text>
<text x="1028.2" y="225.1" font-size="16.5">20</text>
<text x="51.3" y="177.7" font-size="16.5" text-anchor="end">5</text>
<text x="1028.2" y="177.7" font-size="16.5">25</text>
<text x="51.3" y="130.4" font-size="16.5" text-anchor="end">6</text>
<text x="1028.2" y="130.4" font-size="16.5">30</text>
<text transform="translate(20.8 378) rotate(-90)" font-size="24" textLength="221" lengthAdjust="spacing">Wave Height - Metres</text>
<text transform="translate(1058.8 162.3) rotate(90)" font-size="24" textLength="205" lengthAdjust="spacing">Wind Speed - Knots</text>
<text x="893" y="400.5" font-size="10.5" fill="#b4b4b4" textLength="118" lengthAdjust="spacing">www.seabreeze.com.au</text>
<text x="98.5" y="434.6" font-size="16.2" textLength="59.2" lengthAdjust="spacingAndGlyphs">Monday</text>
<text x="109.7" y="458.4" font-size="17" fill="#7d7d7d" stroke="#7d7d7d" stroke-width="0.15" textLength="40.1" lengthAdjust="spacingAndGlyphs">12th</text>
<text x="105.9" y="58.7" font-size="16.5" stroke="#000" stroke-width="0.1" textLength="45.2" lengthAdjust="spacingAndGlyphs">9-27°</text>
<use href="#ic-sun" x="130.3" y="94"/>
<text x="233.2" y="434.6" font-size="16.2" textLength="64.5" lengthAdjust="spacingAndGlyphs">Tuesday</text>
<text x="246.3" y="458.4" font-size="17" fill="#7d7d7d" stroke="#7d7d7d" stroke-width="0.15" textLength="40.2" lengthAdjust="spacingAndGlyphs">13th</text>
<text x="237.9" y="58.7" font-size="16.5" stroke="#000" stroke-width="0.1" textLength="54.2" lengthAdjust="spacingAndGlyphs">12-27°</text>
<use href="#ic-pc" x="266.9" y="94"/>
<text x="355.2" y="434.6" font-size="16.2" textLength="88.5" lengthAdjust="spacingAndGlyphs">Wednesday</text>
<text x="383.3" y="458.4" font-size="17" fill="#7d7d7d" stroke="#7d7d7d" stroke-width="0.15" textLength="40.5" lengthAdjust="spacingAndGlyphs">14th</text>
<text x="374.8" y="58.7" font-size="16.5" stroke="#000" stroke-width="0.1" textLength="54.5" lengthAdjust="spacingAndGlyphs">14-24°</text>
<use href="#ic-th" x="403.4" y="94"/>
<text x="502.5" y="434.6" font-size="16.2" textLength="70.6" lengthAdjust="spacingAndGlyphs">Thursday</text>
<text x="519.7" y="458.4" font-size="17" fill="#7d7d7d" stroke="#7d7d7d" stroke-width="0.15" textLength="39.8" lengthAdjust="spacingAndGlyphs">15th</text>
<text x="511.4" y="58.7" font-size="16.5" stroke="#000" stroke-width="0.1" textLength="54.6" lengthAdjust="spacingAndGlyphs">16-25°</text>
<use href="#ic-th" x="540.0" y="94"/>
<text x="651.5" y="434.6" font-size="16.2" textLength="47.2" lengthAdjust="spacingAndGlyphs">Friday</text>
<text x="656.7" y="458.4" font-size="17" fill="#7d7d7d" stroke="#7d7d7d" stroke-width="0.15" textLength="39.5" lengthAdjust="spacingAndGlyphs">16th</text>
<text x="647.4" y="58.7" font-size="16.5" stroke="#000" stroke-width="0.1" textLength="55.2" lengthAdjust="spacingAndGlyphs">15-20°</text>
<use href="#ic-rain" x="676.6" y="94"/>
<text x="778.5" y="434.6" font-size="16.2" textLength="70.2" lengthAdjust="spacingAndGlyphs" font-weight="bold">Saturday</text>
<text x="792.3" y="458.4" font-size="17" fill="#7d7d7d" stroke="#7d7d7d" stroke-width="0.15" textLength="39.9" lengthAdjust="spacingAndGlyphs">17th</text>
<text x="784.3" y="58.7" font-size="16.5" stroke="#000" stroke-width="0.1" textLength="55.0" lengthAdjust="spacingAndGlyphs">15-22°</text>
<use href="#ic-rain" x="813.1" y="94"/>
<text x="920.7" y="434.6" font-size="16.2" textLength="58.7" lengthAdjust="spacingAndGlyphs" font-weight="bold">Sunday</text>
<text x="929.7" y="458.4" font-size="17" fill="#7d7d7d" stroke="#7d7d7d" stroke-width="0.15" textLength="39.1" lengthAdjust="spacingAndGlyphs">18th</text>
<text x="920.5" y="58.7" font-size="16.5" stroke="#000" stroke-width="0.1" textLength="55.3" lengthAdjust="spacingAndGlyphs">13-23°</text>
<use href="#ic-pc" x="949.7" y="94"/>
</svg></body></html>
